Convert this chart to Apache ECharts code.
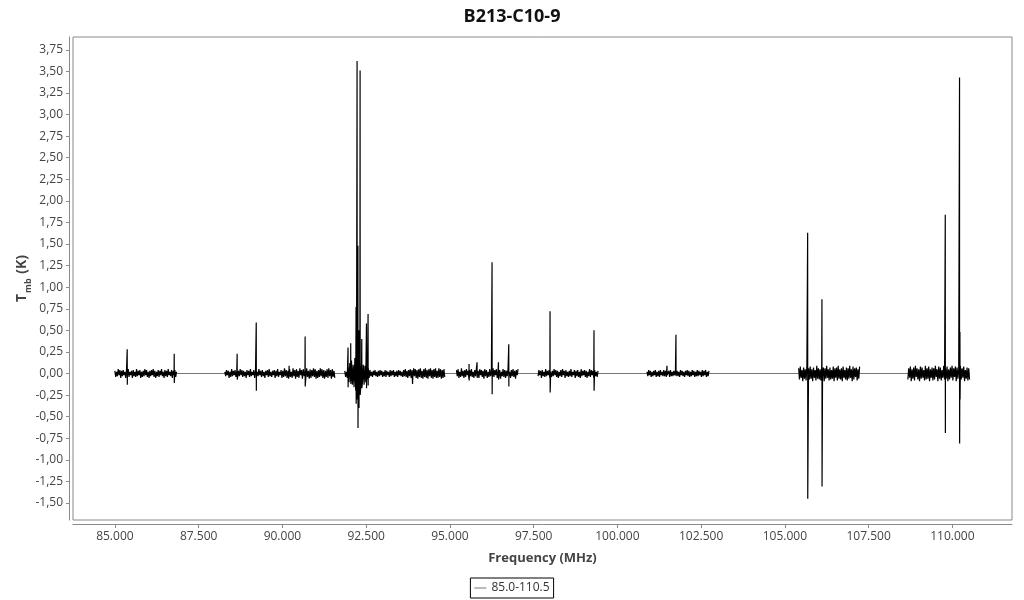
<!DOCTYPE html>
<html>
<head>
<meta charset="utf-8">
<script src="https://cdn.jsdelivr.net/npm/echarts@6/dist/echarts.min.js"></script>
<style>
html,body{margin:0;padding:0;background:#fff;}
#chart{width:1024px;height:600px;}
</style>
</head>
<body>
<div id="chart"></div>
<script>
// ---- data (frequency in MHz, Tmb in K) ----
const segStart = [85000, 88282, 91863, 95196, 97632, 100884, 105411, 108672];
const segEnd   = [86841, 91565, 94847, 97035, 99422, 102734, 107231, 110513];

const noise1 = [0.03,-0.04,0.02,-0.03,0.05,-0.02,0.04,-0.05,0.03,-0.03,0.04,-0.02,0.02,-0.05,0.04,-0.03,0.05,-0.04,0.02,-0.02,0.03,-0.05,0.04,-0.03,0.02,-0.04,0.05,-0.03,0.03,-0.02,0.04,-0.05,0.02,-0.04,0.03,-0.03,0.05,-0.02,0.04,-0.04,0.02,-0.05,0.03,-0.03,0.04,-0.02,0.05,-0.04,0.03,-0.05,0.02,-0.03,0.04,-0.04,0.03,-0.02,0.05,-0.03,0.02,-0.05,0.04,-0.03,0.03,-0.04,0.05,-0.02,0.02,-0.03,0.04,-0.05,0.03,-0.02,0.04,-0.04,0.02];
const noise2 = [0.02,-0.03,0.04,-0.02,0.03,-0.05,0.02,-0.04,0.05,-0.03,0.03,-0.02,0.04,-0.04,0.02,-0.05,0.03,-0.03,0.05,-0.02,0.04,-0.04,0.03,-0.03,0.02,-0.05,0.04,-0.02,0.03,-0.04,0.05,-0.03,0.02,-0.02,0.04,-0.05,0.03,-0.04,0.02,-0.03,0.05,-0.02,0.03,-0.04,0.04,-0.03,0.02,-0.05,0.03,-0.02,0.04,-0.04,0.05,-0.03,0.02,-0.04,0.03,-0.02,0.04,-0.05,0.03,-0.03,0.05,-0.04,0.02,-0.02,0.04,-0.05,0.03,-0.04,0.06,-0.03,0.04,-0.05,0.03,-0.06,0.05,-0.04,0.02,-0.05,0.06,-0.03,0.04,-0.06,0.05,-0.04,0.03,-0.05,0.06,-0.02,0.04,-0.06,0.05,-0.03,0.04,-0.05,0.06,-0.04,0.03,-0.06,0.05,-0.05,0.04,-0.03,0.06,-0.04,0.05,-0.06,0.03,-0.05,0.04,-0.04,0.06,-0.03,0.05,-0.05,0.04,-0.06,0.03,-0.04,0.05,-0.05,0.06,-0.03,0.04,-0.06,0.05,-0.04,0.03,-0.05];
const noise3 = [0.03,-0.04,0.02,-0.05,0.08,-0.10,0.12,-0.09,0.15,-0.13,0.10,-0.16,0.18,-0.20,0.14,-0.22,0.17,-0.19,0.12,-0.15,0.14,-0.11,0.10,-0.13,0.09,-0.10,0.08,-0.07,0.06,-0.05,0.04,-0.03,0.02,-0.04,0.03,-0.02,0.04,-0.03,0.02,-0.04,0.03,-0.03,0.04,-0.02,0.03,-0.04,0.02,-0.03,0.04,-0.04,0.03,-0.02,0.02,-0.04,0.04,-0.03,0.03,-0.02,0.04,-0.04,0.02,-0.03,0.03,-0.04,0.04,-0.02,0.03,-0.03,0.02,-0.04,0.04,-0.03,0.05,-0.04,0.03,-0.05,0.04,-0.03,0.05,-0.05,0.04,-0.04,0.06,-0.03,0.05,-0.05,0.04,-0.06,0.05,-0.04,0.06,-0.05,0.03,-0.06,0.05,-0.04,0.06,-0.05,0.04,-0.06,0.05,-0.03,0.06,-0.05,0.04,-0.06,0.05,-0.04,0.06,-0.05,0.03,-0.05,0.06,-0.04,0.05,-0.06,0.04,-0.05,0.05,-0.04];
const noise4 = [0.04,-0.03,0.05,-0.05,0.02,-0.04,0.06,-0.03,0.03,-0.05,0.04,-0.04,0.05,-0.02,0.03,-0.06,0.04,-0.03,0.05,-0.04,0.02,-0.05,0.04,-0.03,0.06,-0.04,0.03,-0.05,0.05,-0.02,0.04,-0.04,0.03,-0.06,0.05,-0.03,0.04,-0.05,0.02,-0.04,0.05,-0.03,0.03,-0.05,0.06,-0.04,0.04,-0.02,0.05,-0.05,0.03,-0.04,0.04,-0.06,0.02,-0.03,0.05,-0.04,0.04,-0.05,0.03,-0.03,0.06,-0.04,0.02,-0.05,0.04,-0.03,0.05,-0.04,0.03,-0.06,0.04,-0.02,0.05];
const noise5 = [-0.03,0.04,-0.02,0.03,-0.05,0.04,-0.03,0.02,-0.04,0.05,-0.03,0.03,-0.02,0.04,-0.05,0.02,-0.04,0.03,-0.03,0.05,-0.02,0.04,-0.04,0.03,-0.05,0.02,-0.03,0.04,-0.04,0.05,-0.02,0.03,-0.05,0.04,-0.03,0.02,-0.04,0.03,-0.03,0.05,-0.04,0.02,-0.02,0.04,-0.05,0.03,-0.03,0.04,-0.04,0.02,-0.05,0.05,-0.03,0.03,-0.02,0.04,-0.04,0.03,-0.05,0.02,-0.03,0.05,-0.04,0.04,-0.02,0.03,-0.05,0.04,-0.03,0.02,-0.04,0.03];
const noise6 = [0.02,-0.03,0.04,-0.02,0.03,-0.04,0.02,-0.03,0.03,-0.02,0.04,-0.04,0.02,-0.03,0.03,-0.04,0.04,-0.02,0.02,-0.03,0.04,-0.03,0.03,-0.04,0.02,-0.02,0.03,-0.04,0.04,-0.03,0.02,-0.03,0.03,-0.02,0.04,-0.04,0.03,-0.03,0.02,-0.04,0.04,-0.02,0.03,-0.03,0.02,-0.04,0.03,-0.02,0.04,-0.03,0.03,-0.04,0.02,-0.03,0.04,-0.02,0.03,-0.04,0.02,-0.03,0.04,-0.03,0.03,-0.02,0.02,-0.04,0.04,-0.03,0.03,-0.02,0.04,-0.04,0.02,-0.03,0.03];
const noise7 = [0.06,-0.07,0.08,-0.05,0.04,-0.09,0.07,-0.06,0.05,-0.08,0.09,-0.04,0.06,-0.07,0.08,-0.06,0.05,-0.09,0.07,-0.05,0.04,-0.08,0.09,-0.06,0.06,-0.07,0.05,-0.08,0.08,-0.04,0.07,-0.09,0.06,-0.06,0.09,-0.05,0.05,-0.08,0.07,-0.07,0.04,-0.06,0.08,-0.09,0.06,-0.05,0.07,-0.08,0.09,-0.06,0.05,-0.07,0.06,-0.09,0.08,-0.05,0.04,-0.07,0.07,-0.08,0.06,-0.06,0.09,-0.05,0.05,-0.09,0.08,-0.07,0.06,-0.04,0.07,-0.08,0.05,-0.06,0.08];
const noise8 = [-0.07,0.06,-0.05,0.08,-0.09,0.05,-0.06,0.07,-0.08,0.09,-0.04,0.06,-0.07,0.05,-0.09,0.08,-0.06,0.07,-0.05,0.04,-0.08,0.09,-0.07,0.06,-0.06,0.08,-0.09,0.05,-0.05,0.07,-0.08,0.06,-0.07,0.09,-0.04,0.05,-0.09,0.08,-0.06,0.07,-0.08,0.04,-0.05,0.09,-0.07,0.06,-0.06,0.08,-0.09,0.05,-0.07,0.07,-0.05,0.09,-0.08,0.06,-0.04,0.08,-0.09,0.07,-0.06,0.05,-0.08,0.09,-0.07,0.06,-0.05,0.08,-0.09,0.04,-0.06,0.07,-0.08,0.06,-0.07];
const segNoise = [noise1, noise2, noise3, noise4, noise5, noise6, noise7, noise8];

// spectral lines: [frequency, peak, trough]
const lines = [
  [85368, 0.28, -0.13], [86771, 0.23, -0.11],
  [88650, 0.23, -0.07], [89220, 0.59, -0.20], [90201, 0.09, -0.03], [90679, 0.43, -0.15],
  [91960, 0.30, -0.16], [92040, 0.35, -0.12], [92200, 0.77, -0.35], [92230, 3.62, -0.30],
  [92255, 1.48, -0.63], [92285, 0.50, -0.40], [92320, 3.51, -0.25], [92370, 0.40, -0.17],
  [92510, 0.58, -0.17], [92558, 0.69, -0.14], [93883, 0.04, -0.12],
  [95572, 0.11, -0.08], [95811, 0.13, -0.05], [96259, 1.29, -0.24], [96450, 0.13, -0.07], [96758, 0.34, -0.15],
  [97990, 0.72, -0.22], [99302, 0.50, -0.20],
  [101481, 0.09, -0.02], [101749, 0.45, -0.03],
  [105680, 1.63, -1.45], [106107, 0.86, -1.31],
  [109788, 1.84, -0.69], [110214, 3.43, -0.81], [110226, 0.48, -0.30]
];

const yTicks = [-1.5,-1.25,-1,-0.75,-0.5,-0.25,0,0.25,0.5,0.75,1,1.25,1.5,1.75,2,2.25,2.5,2.75,3,3.25,3.5,3.75];
const xTicks = [85000,87500,90000,92500,95000,97500,100000,102500,105000,107500,110000];
const seriesName = '85.0-110.5';

// ---- build spectrum points ----
const spectrum = [];
for (let s = 0; s < segStart.length; s++) {
  const n = segNoise[s];
  const pts = [];
  const step = (segEnd[s] - segStart[s]) / (n.length - 1);
  for (let i = 0; i < n.length; i++) pts.push([segStart[s] + i * step, n[i]]);
  lines.forEach(l => {
    if (l[0] >= segStart[s] && l[0] <= segEnd[s]) {
      pts.push([l[0], l[1]]);
      pts.push([l[0] + 3, l[2]]);
    }
  });
  pts.sort((a, b) => a[0] - b[0]);
  pts.forEach(p => spectrum.push(p));
  if (s < segStart.length - 1) spectrum.push([segEnd[s] + 1, '-']);
}
const baseline = [[segStart[0], 0], [segEnd[segEnd.length - 1], 0]];

const font = 'Open Sans';
const chart = echarts.init(document.getElementById('chart'), null, {renderer: 'canvas'});
chart.setOption({
  animation: false,
  backgroundColor: '#fff',
  title: {
    text: 'B213-C10-9', left: 'center', top: 3,
    textStyle: {fontFamily: font, fontWeight: 'bold', fontSize: 18, color: '#111'}
  },
  grid: {left: 73, right: 12, top: 37, bottom: 80, show: true, borderColor: '#8a8a8a', borderWidth: 1, containLabel: false},
  legend: {
    data: [{name: seriesName, icon: 'path://M0,0H12V1H0Z', itemStyle: {color: '#777'}}],
    bottom: 2, left: 'center',
    borderColor: '#000', borderWidth: 1, padding: [4, 4, 4, 4],
    itemWidth: 12, itemHeight: 14, itemGap: 4,
    textStyle: {fontFamily: font, fontSize: 12, color: '#333'}
  },
  xAxis: {
    type: 'value', min: 83750, max: 111780, offset: 4,
    name: 'Frequency (MHz)', nameLocation: 'middle', nameGap: 28,
    nameTextStyle: {fontFamily: font, fontWeight: 'bold', fontSize: 13, color: '#444'},
    axisLine: {show: true, onZero: false, lineStyle: {color: '#8a8a8a', width: 1}},
    axisTick: {show: true, length: 4, customValues: xTicks, lineStyle: {color: '#8a8a8a'}},
    axisLabel: {customValues: xTicks, margin: 7, fontFamily: font, fontSize: 12, color: '#444',
      formatter: v => (v / 1000).toFixed(3)},
    splitLine: {show: false}
  },
  yAxis: {
    type: 'value', min: -1.697, max: 3.898, offset: 4,
    name: '{t|T}{s|mb}{t| (K)}', nameLocation: 'middle', nameGap: 40, nameMoveOverlap: false,
    nameTextStyle: {fontFamily: font, fontWeight: 'bold', fontSize: 13, color: '#444',
      rich: {
        t: {fontFamily: font, fontWeight: 'bold', fontSize: 14, color: '#444', verticalAlign: 'bottom', lineHeight: 16},
        s: {fontFamily: font, fontWeight: 'bold', fontSize: 9, color: '#444', verticalAlign: 'bottom', lineHeight: 16, padding: [0, 1, -4, 1]}
      }},
    axisLine: {show: true, onZero: false, lineStyle: {color: '#8a8a8a', width: 1}},
    axisTick: {show: true, length: 3, customValues: yTicks, lineStyle: {color: '#8a8a8a'}},
    axisLabel: {customValues: yTicks, margin: 6, fontFamily: font, fontSize: 12, color: '#444',
      formatter: v => v.toFixed(2).replace('.', ',')},
    splitLine: {show: false}
  },
  series: [
    {
      name: 'baseline', type: 'line', data: baseline, symbol: 'none', silent: true,
      lineStyle: {color: '#777', width: 1}, z: 1
    },
    {
      name: seriesName, type: 'line', data: spectrum, symbol: 'none', showSymbol: false,
      connectNulls: false, sampling: null,
      lineStyle: {color: '#000', width: 1.2}, itemStyle: {color: '#000'}, z: 3
    }
  ]
});
</script>
</body>
</html>
